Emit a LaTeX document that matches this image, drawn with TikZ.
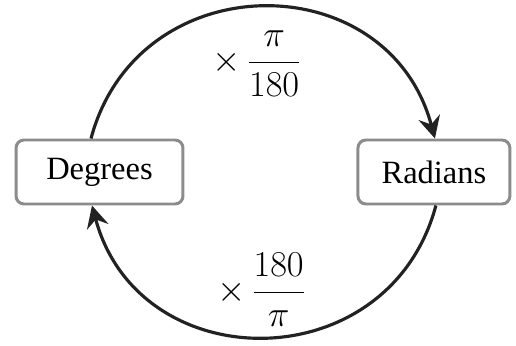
\documentclass[tikz,border=0pt]{standalone}
\usepackage{fontspec}
\setmainfont{Liberation Serif}
\usetikzlibrary{positioning,arrows.meta}
\definecolor{boxgray}{HTML}{8C8C8C}
\definecolor{arcblack}{HTML}{222222}
\tikzset{
    unitbox/.style={rectangle, draw=boxgray, line width=1.7pt, rounded corners=0.16cm,
        minimum height=1.28cm, font=\fontsize{18.5}{22}\selectfont},
    convert/.style={draw=arcblack, line width=1.8pt,
        -{Stealth[length=0.44cm, width=0.44cm, inset=0.15cm]}},
    factor/.style={font=\fontsize{21}{25}\selectfont},
}
\begin{document}
\begin{tikzpicture}[x=0.02cm, y=0.02cm]
    \useasboundingbox (0,0) rectangle (516,345);
    % Units
    \node (deg) [unitbox, minimum width=3.34cm] at (99.5,173) {Degrees};
    \node (rad) [unitbox, minimum width=3.04cm, right=3.44cm of deg] {Radians};

    % Conversions
    \draw[convert] ([xshift=-0.17cm]deg.north) to[out=75, in=105, looseness=1.35]
        node[factor, midway, yshift=-1.12cm, xshift=-0.12cm] {$\times\,\displaystyle\frac{\pi}{180}$}
        ([xshift=0.02cm]rad.north);
    \draw[convert] ([xshift=0.04cm]rad.south) to[out=-105, in=-75, looseness=1.35]
        node[factor, midway, yshift=0.94cm, xshift=-0.05cm] {$\times\,\displaystyle\frac{180}{\pi}$}
        ([xshift=-0.15cm]deg.south);
\end{tikzpicture}
\end{document}
